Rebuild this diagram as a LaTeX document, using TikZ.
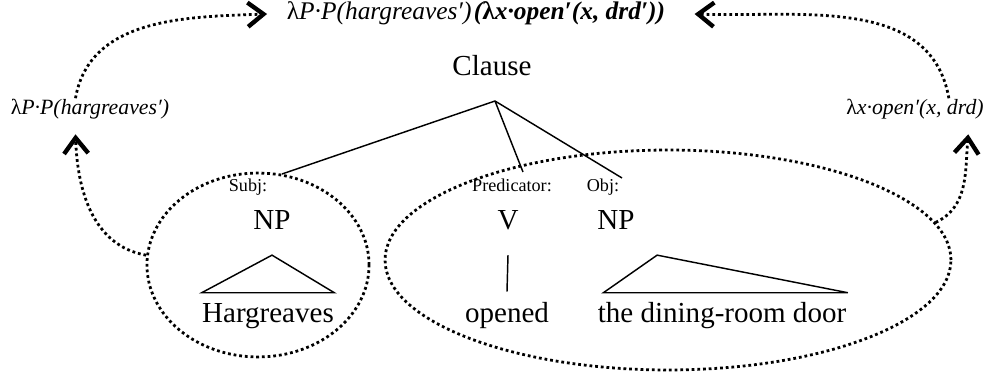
\documentclass[tikz,border=0pt]{standalone}
\usepackage{fontspec}
\setmainfont{Liberation Serif}
\usetikzlibrary{arrows.meta,shapes.geometric}

\newcommand{\lmb}{{\upshape λ}}

\tikzset{
	cat/.style={
		font=\fontsize{12}{14}\selectfont,
		inner sep=0pt,
		text height=8.5pt,
		text depth=2.5pt,
	},
	fn/.style={
		font=\fontsize{7.5}{9}\selectfont,
		inner sep=0pt,
		text height=5.5pt,
		text depth=1.8pt,
	},
	sem/.style={
		font=\fontsize{9}{11}\selectfont\itshape,
		inner sep=0pt,
		text height=6.5pt,
		text depth=2pt,
	},
	branch/.style={
		line width=0.6pt,
	},
	dots/.style={
		line width=1.15pt,
		dash pattern=on 1.15pt off 1.2pt,
	},
	group/.style={
		ellipse,
		dots,
		draw,
		inner sep=0pt,
	},
	comp/.style={
		dots,
		-{Straight Barb[length=6.5pt,width=10pt,line width=1.8pt]},
	},
}

\begin{document}
\begin{tikzpicture}[x=0.4133pt,y=0.4133pt]
\useasboundingbox (0,0) rectangle (1007,376);

% semantic values
\node[sem,font=\fontsize{10.5}{12}\selectfont\itshape] (whole) at (476,362)
  {\lmb P·P(hargreaves′)\kern1pt\textbf{(\lmb x·open′(x, drd′))}};
\node[sem] (lamP) at (90,267) {\lmb P·P(hargreaves′)};
\node[sem] (lamX) at (915,267) {\lmb x·open′(x, drd)};

% the tree
\node[cat] (clause) at (492,308) {Clause};
\coordinate (fork) at (495,275);

\node[fn] (subj) at (248,189) {Subj:};
\node[fn] (pred) at (512,189) {Predicator:};
\node[fn] (obj) at (603,189) {Obj:};

\node[cat] (np1) at (272,154) {NP};
\node[cat] (v) at (508,154) {V};
\node[cat] (np2) at (616,154) {NP};

\node[cat] (hargreaves) at (268,61) {Hargreaves};
\node[cat] (opened) at (507,61) {opened};
\node[cat] (door) at (722,61) {the dining-room door};

\coordinate (subjend) at (282,202);
\coordinate (predend) at (523,204);
\coordinate (objend) at (622,198);

\draw[branch] (fork) -- (subjend);
\draw[branch] (fork) -- (predend);
\draw[branch] (fork) -- (objend);

\draw[branch] ([yshift=-8pt]np1.south)
  -- ([yshift=3.5pt]hargreaves.north west)
  -- ([yshift=3.5pt]hargreaves.north east)
  -- cycle;
\draw[branch] ([yshift=-8pt]v.south) -- ([yshift=4pt]opened.north);
\draw[branch] ([xshift=17pt,yshift=-8pt]np2.south)
  -- ([xshift=2.5pt,yshift=3.5pt]door.north west)
  -- ([xshift=0.5pt,yshift=3.5pt]door.north east)
  -- cycle;

% constituents
\node[group,minimum width=91.8pt,minimum height=76pt] (grpL) at (258,111) {};
\node[group,minimum width=233.9pt,minimum height=90.9pt] (grpR) at (668,116) {};

% composition
\draw[comp] (grpL.175) to[out=170,in=-88] ([shift={(-6pt,-6pt)}]lamP.south);
\draw[comp] (grpR.8) to[out=25,in=-95] ([shift={(22pt,-6pt)}]lamX.south);
\draw[comp] ([xshift=-6pt]lamP.north) to[out=80,in=182] ([xshift=-8pt]whole.west);
\draw[comp] ([xshift=14pt]lamX.north) to[out=100,in=-2] ([xshift=12pt]whole.east);

\end{tikzpicture}
\end{document}
